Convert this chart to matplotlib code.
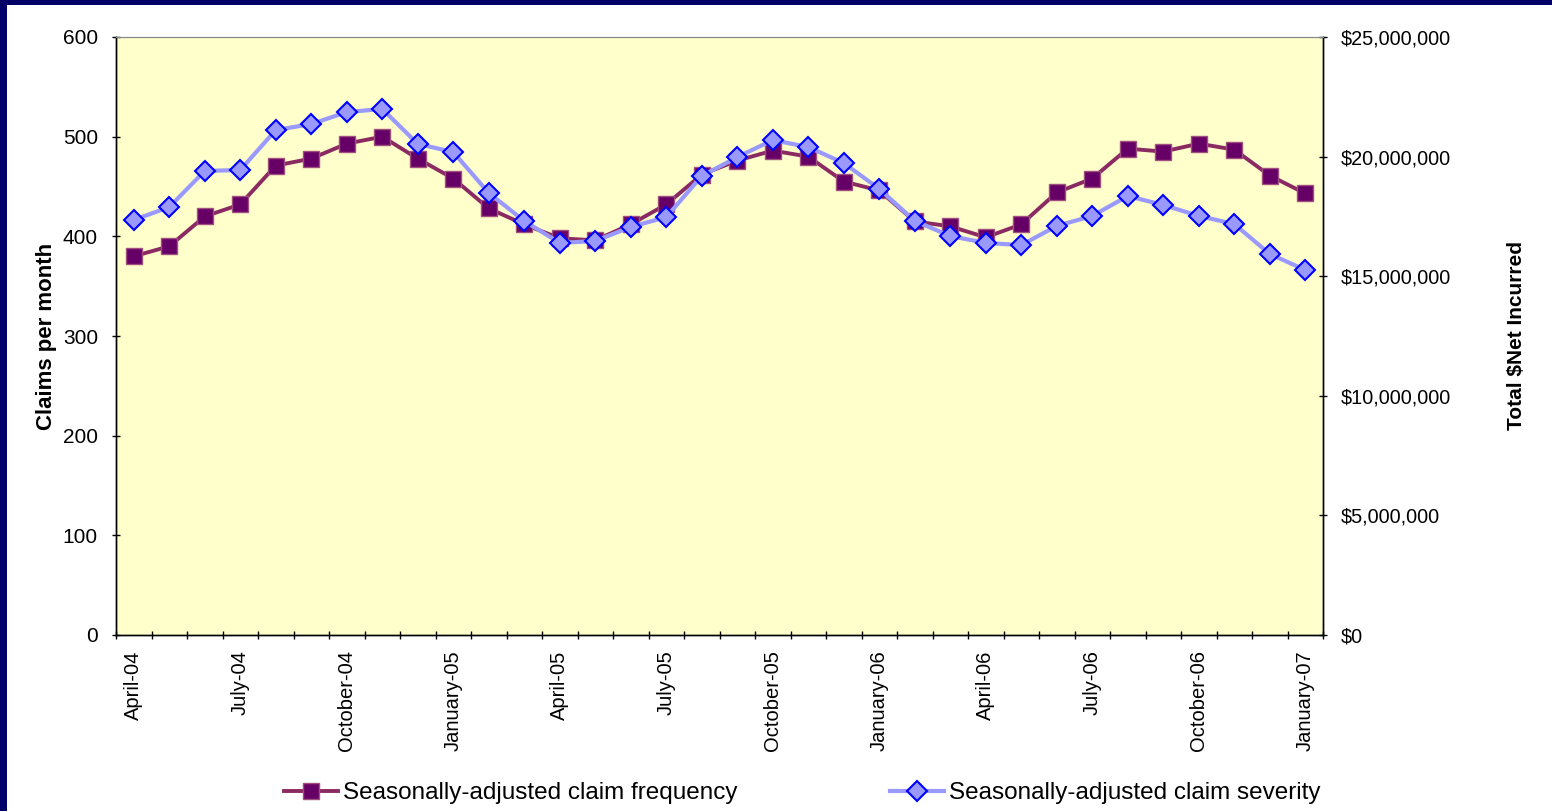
import matplotlib
matplotlib.use("Agg")
import matplotlib.pyplot as plt
from matplotlib.patches import Rectangle
from matplotlib.ticker import FuncFormatter, FixedLocator, NullFormatter

plt.rcParams["font.family"] = ["Liberation Sans", "DejaVu Sans"]

# Monthly categories, April-04 .. January-07
months = [
    "April-04", "May-04", "June-04", "July-04", "August-04", "September-04",
    "October-04", "November-04", "December-04", "January-05", "February-05", "March-05",
    "April-05", "May-05", "June-05", "July-05", "August-05", "September-05",
    "October-05", "November-05", "December-05", "January-06", "February-06", "March-06",
    "April-06", "May-06", "June-06", "July-06", "August-06", "September-06",
    "October-06", "November-06", "December-06", "January-07",
]

# Seasonally-adjusted claim frequency (claims per month, left axis)
frequency = [
    380, 390, 420, 432, 471, 478, 493, 500, 478, 458, 428, 412,
    398, 396, 412, 432, 462, 476, 486, 480, 455, 446, 415, 410,
    399, 412, 444, 458, 488, 485, 493, 487, 461, 443,
]

# Seasonally-adjusted claim severity (total $ net incurred, right axis)
severity = [
    17.35e6, 17.89e6, 19.40e6, 19.44e6, 21.11e6, 21.36e6, 21.86e6, 21.99e6,
    20.53e6, 20.19e6, 18.48e6, 17.31e6, 16.39e6, 16.47e6, 17.06e6, 17.47e6,
    19.19e6, 19.98e6, 20.69e6, 20.40e6, 19.73e6, 18.65e6, 17.31e6, 16.68e6,
    16.39e6, 16.30e6, 17.10e6, 17.52e6, 18.35e6, 17.98e6, 17.52e6, 17.18e6,
    15.93e6, 15.26e6,
]

fig = plt.figure(figsize=(15.52, 8.11), dpi=100)
fig.patch.set_facecolor("white")

# navy frame on left and top edges
fig.patches.append(Rectangle((0, 0), 7 / 1552, 1, transform=fig.transFigure,
                             facecolor="#000066", edgecolor="none", zorder=0))
fig.patches.append(Rectangle((0, 1 - 5 / 811), 1, 5 / 811, transform=fig.transFigure,
                             facecolor="#000066", edgecolor="none", zorder=0))

ax = fig.add_axes([116 / 1552, 1 - 635 / 811, (1323 - 116) / 1552, (635 - 37) / 811])
ax.set_facecolor("#FFFFCC")
ax2 = ax.twinx()

n = len(months)
x = list(range(n))

l1, = ax.plot(x, frequency, color="#8B2A62", lw=2.8, marker="s", markersize=11,
              markerfacecolor="#660066", markeredgecolor="#A0507F", markeredgewidth=1,
              zorder=3, label="Seasonally-adjusted claim frequency")
l2, = ax2.plot(x, severity, color="#9999FF", lw=3, marker="D", markersize=10,
               markerfacecolor="#9999FF", markeredgecolor="#0000FF", markeredgewidth=1.5,
               zorder=3, label="Seasonally-adjusted claim severity")

ax.set_xlim(-0.5, n - 0.5)
ax.set_ylim(0, 600)
ax2.set_ylim(0, 25e6)
ax.set_yticks(range(0, 601, 100))
ax2.set_yticks([0, 5e6, 10e6, 15e6, 20e6, 25e6])
ax2.yaxis.set_major_formatter(FuncFormatter(lambda v, p: "${:,.0f}".format(v)))

# ticks between categories, labels every third month
ax.xaxis.set_major_locator(FixedLocator([i - 0.5 for i in range(n + 1)]))
ax.xaxis.set_major_formatter(NullFormatter())
ax.xaxis.set_minor_locator(FixedLocator(x[::3]))
ax.set_xticklabels([months[i] for i in x[::3]], minor=True, rotation=90, fontsize=14.5)
ax.tick_params(axis="x", which="minor", length=0, pad=11)
ax.tick_params(axis="x", which="major", length=6, direction="inout", width=1)
ax.tick_params(axis="y", labelsize=15, length=6, direction="inout", width=1, pad=10)
ax2.tick_params(axis="y", labelsize=14.3, length=6, direction="inout", width=1, pad=10)

for a in (ax, ax2):
    a.spines["top"].set_color("#888888")
    for s in ("left", "right", "bottom"):
        a.spines[s].set_color("black")
        a.spines[s].set_linewidth(1)

ax.set_ylabel("Claims per month", fontsize=16, fontweight="bold", labelpad=4)
ax2.set_ylabel("Total $Net Incurred", fontsize=15, fontweight="bold", labelpad=40)

fig.legend(handles=[l1, l2], loc="center", bbox_to_anchor=(0.517, 1 - 793 / 811),
           ncol=2, frameon=False, fontsize=17.5, columnspacing=6.3, handlelength=2.2,
           handletextpad=0.2)

fig.savefig("out.png", dpi=100)
